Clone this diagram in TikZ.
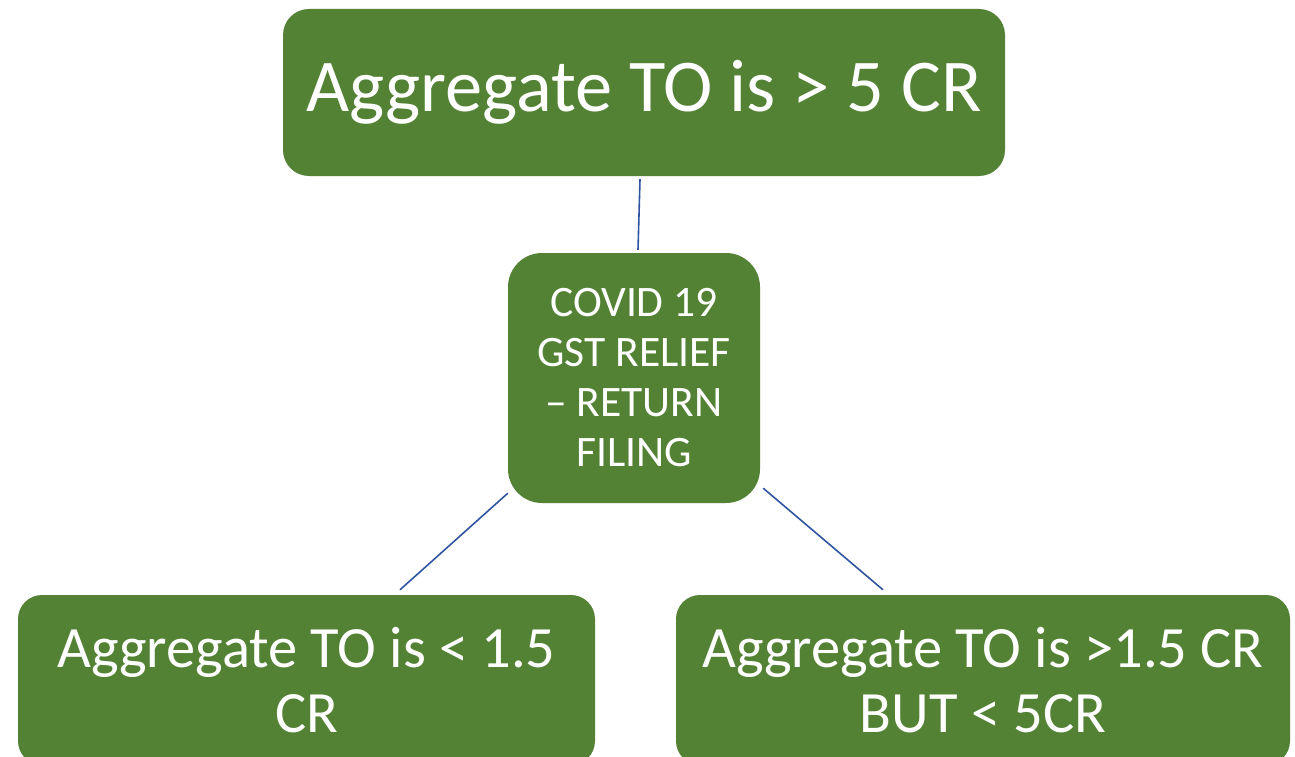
\documentclass[tikz,border=0pt]{standalone}
\usepackage{fontspec}
\setmainfont{Carlito}
\usetikzlibrary{calc}
\definecolor{boxgreen}{HTML}{548235}
\definecolor{linkblue}{HTML}{2F55A0}
\tikzset{
  gbox/.style={rectangle, rounded corners=#1, fill=boxgreen, draw=none, text=white, align=center, inner sep=0pt},
  link/.style={draw=linkblue, line width=1.6pt}
}
\begin{document}
\begin{tikzpicture}[x=1pt,y=-1pt]
\useasboundingbox (0,0) rectangle (1295,757);
\node[gbox=26pt, minimum width=722pt, minimum height=167pt, font=\fontsize{74.5}{88}\selectfont] (top) at (644,92.5) {Aggregate TO is > 5 CR};
\node[gbox=34pt, minimum width=252pt, minimum height=250pt, font=\fontsize{43.5}{50}\selectfont] (c) at (634,378) {COVID 19\\GST RELIEF\\– RETURN\\FILING};
\node[gbox=24pt, minimum width=577pt, minimum height=170pt, font=\fontsize{58.5}{65}\selectfont] (bl) at (306.5,680) {Aggregate TO is < 1.5\\CR};
\node[gbox=24pt, minimum width=614pt, minimum height=170pt, font=\fontsize{58.5}{65}\selectfont] (br) at (983,680) {Aggregate TO is >1.5 CR\\BUT < 5CR};
\draw[link] ($(top.south)+(-4,3)$) -- ($(c.north)+(4,-3)$);
\draw[link] ($(c.south west)+(0,-10)$) -- ($(bl.north)+(93.5,-5)$);
\draw[link] ($(c.south east)+(3,-15)$) -- ($(br.north)+(-100,-5)$);
\end{tikzpicture}
\end{document}
